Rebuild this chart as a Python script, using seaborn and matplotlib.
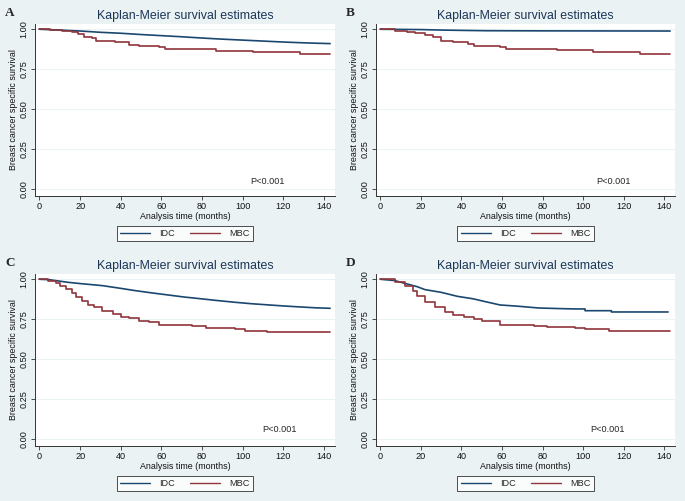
import pandas as pd
import seaborn as sns
import matplotlib.pyplot as plt
from matplotlib.lines import Line2D

# Kaplan-Meier curves (time in months, survival)
idc_a_t = [0, 10, 20, 30, 40, 50, 60, 70, 80, 90, 100, 110, 120, 130, 143]
idc_a_s = [1.0, 0.995, 0.989, 0.981, 0.975, 0.967, 0.960, 0.953, 0.945, 0.938, 0.932, 0.926, 0.920, 0.915, 0.910]
mbc_a_t = [0, 5, 11, 16, 19, 22, 26, 28, 31, 37, 44, 49, 59, 62, 87, 105, 128, 143]
mbc_a_s = [1.0, 0.995, 0.987, 0.981, 0.971, 0.954, 0.943, 0.929, 0.924, 0.918, 0.903, 0.895, 0.887, 0.876, 0.861, 0.855, 0.842, 0.842]

idc_b_t = [0, 10, 20, 30, 40, 52, 80, 143]
idc_b_s = [1.0, 0.999, 0.998, 0.995, 0.993, 0.991, 0.990, 0.989]
mbc_b_t = [0, 7, 13, 17, 22, 26, 30, 36, 43, 46, 55, 59, 62, 87, 105, 128, 143]
mbc_b_s = [1.0, 0.992, 0.983, 0.977, 0.964, 0.950, 0.929, 0.922, 0.908, 0.897, 0.893, 0.889, 0.878, 0.868, 0.859, 0.842, 0.842]

idc_c_t = [0, 5, 14, 20, 31, 40, 47, 55, 63, 71, 80, 88, 96, 104, 113, 121, 129, 136, 143]
idc_c_s = [1.0, 0.997, 0.981, 0.973, 0.960, 0.943, 0.929, 0.915, 0.902, 0.889, 0.877, 0.866, 0.856, 0.847, 0.839, 0.832, 0.826, 0.821, 0.818]
mbc_c_t = [0, 4, 8, 10, 13, 16, 18, 21, 24, 27, 31, 36, 40, 44, 49, 54, 59, 75, 82, 96, 101, 112, 143]
mbc_c_s = [1.0, 0.992, 0.975, 0.960, 0.939, 0.914, 0.887, 0.862, 0.839, 0.824, 0.799, 0.782, 0.765, 0.755, 0.741, 0.730, 0.713, 0.709, 0.697, 0.688, 0.678, 0.672, 0.672]

idc_d_t = [0, 7, 13, 18, 22, 30, 38, 46, 51, 59, 68, 78, 89, 96, 101, 101, 114, 114, 142]
idc_d_s = [1.0, 0.992, 0.971, 0.954, 0.935, 0.918, 0.893, 0.877, 0.862, 0.839, 0.831, 0.820, 0.816, 0.814, 0.814, 0.803, 0.803, 0.795, 0.795]
mbc_d_t = [0, 7, 12, 16, 18, 22, 27, 32, 36, 41, 46, 50, 59, 76, 82, 96, 101, 113, 143]
mbc_d_s = [1.0, 0.981, 0.960, 0.929, 0.897, 0.856, 0.824, 0.793, 0.778, 0.766, 0.751, 0.736, 0.715, 0.709, 0.699, 0.692, 0.686, 0.676, 0.676]

panel_letters = ["A", "B", "C", "D"]
p_text_x = [112, 115, 118, 112]
p_text_y = [0.048, 0.048, 0.06, 0.06]
groups = ["IDC", "MBC"]
yticks = [0, 0.25, 0.5, 0.75, 1.0]
xticks = [0, 20, 40, 60, 80, 100, 120, 140]

BG = "#EAF2F3"
colors = {"IDC": "#1a476f", "MBC": "#90353b"}

sns.set_theme(style="white")
plt.rcParams["font.family"] = ["Liberation Sans", "DejaVu Sans"]

fig = plt.figure(figsize=(6.85, 5.01), dpi=100, facecolor=BG)

# axes boxes in pixels: left, top, right, bottom
boxes = [(35, 24, 335, 196), (376, 24, 675, 196), (35, 274, 335, 446), (376, 274, 675, 446)]
curves = [
    (idc_a_t, idc_a_s, mbc_a_t, mbc_a_s),
    (idc_b_t, idc_b_s, mbc_b_t, mbc_b_s),
    (idc_c_t, idc_c_s, mbc_c_t, mbc_c_s),
    (idc_d_t, idc_d_s, mbc_d_t, mbc_d_s),
]
W, H = 685, 501

for i, (l, t, r, b) in enumerate(boxes):
    ax = fig.add_axes([l / W, 1 - b / H, (r - l) / W, (b - t) / H])
    ax.set_facecolor("white")
    it, is_, mt, ms = curves[i]
    idc = pd.DataFrame({"time": it, "surv": is_})
    mbc = pd.DataFrame({"time": mt, "surv": ms})
    sns.lineplot(data=idc, x="time", y="surv", ax=ax, color=colors["IDC"],
                 lw=1.2, sort=False, estimator=None)
    sns.lineplot(data=mbc, x="time", y="surv", ax=ax, color=colors["MBC"],
                 lw=1.2, sort=False, estimator=None, drawstyle="steps-post")

    ax.set_xlim(-2.2, 145.4)
    ax.set_ylim(-0.045, 1.033)
    ax.set_yticks(yticks)
    ax.set_yticklabels([f"{v:.2f}" for v in yticks], rotation=90, va="center")
    ax.set_xticks(xticks)
    for v in yticks:
        ax.axhline(v, color=BG, lw=0.8, zorder=0)
    for s in ["top", "right"]:
        ax.spines[s].set_visible(False)
    for s in ["left", "bottom"]:
        ax.spines[s].set_color("#333333")
        ax.spines[s].set_linewidth(0.7)
    ax.tick_params(axis="both", length=3, width=0.6, color="#333333",
                   labelsize=6.6, pad=1.5, labelcolor="#111111", left=True, bottom=True)
    ax.set_xlabel("Analysis time (months)", fontsize=6.4, labelpad=0.3, color="#111111")
    ax.set_ylabel("Breast cancer specific survival", fontsize=6.4, labelpad=1.5, color="#111111")
    ax.set_title("Kaplan-Meier survival estimates", fontsize=8.9, color="#1c3557", pad=3.5)
    ax.text(p_text_x[i], p_text_y[i], "P<0.001", fontsize=6.6, ha="center", va="center")

    handles = [Line2D([], [], color=colors[g], lw=1.0) for g in groups]
    leg = ax.legend(handles, groups, loc="upper center", bbox_to_anchor=(0.5, -0.145),
                    ncol=2, frameon=True, fancybox=False, fontsize=6.6, handlelength=3.3,
                    columnspacing=1.6, borderpad=0.35, handletextpad=1.0)
    leg.get_frame().set_edgecolor("#222222")
    leg.get_frame().set_linewidth(0.7)
    leg.get_frame().set_facecolor("white")

    fig.text((l - 30) / W, 1 - (t - 8) / H, panel_letters[i], fontsize=9.5, fontweight="bold",
             family=["Liberation Serif", "DejaVu Serif"], va="baseline", ha="left")

fig.savefig("out.png", dpi=100, facecolor=BG)
